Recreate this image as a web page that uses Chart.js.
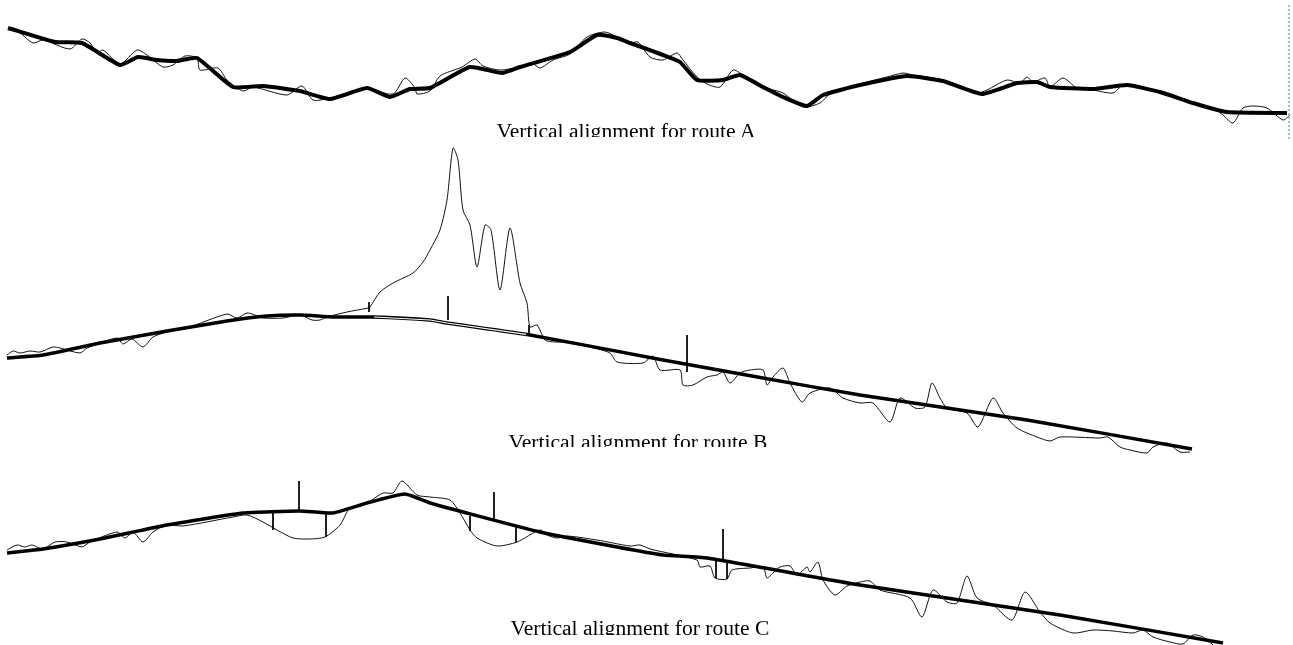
<!DOCTYPE html>
<html>
<head>
<meta charset="utf-8">
<title>Vertical alignment for routes A, B and C</title>
<script src="https://cdn.jsdelivr.net/npm/chart.js@4.4.1/dist/chart.umd.min.js"></script>
<style>
  html, body { margin: 0; padding: 0; background: #fff; }
  #page { position: relative; width: 1293px; height: 645px; overflow: hidden; }
  canvas { position: absolute; left: 0; }
  .caption {
    position: absolute;
    width: 320px;
    text-align: center;
    white-space: nowrap;
    overflow: hidden;
    font-family: "Liberation Serif", "Times New Roman", serif;
    font-size: 21.6px;
    line-height: 24px;
    color: #000;
  }
</style>
</head>
<body>
<div id="page">
  <canvas id="chartA" width="1293" height="150" style="top:0px"></canvas>
  <canvas id="chartB" width="1293" height="330" style="top:140px"></canvas>
  <canvas id="chartC" width="1293" height="175" style="top:470px"></canvas>
  <div class="caption" style="left:466px; top:119px; height:18px;">Vertical alignment for route A</div>
  <div class="caption" style="left:478px; top:430px; height:17px;">Vertical alignment for route B</div>
  <div class="caption" style="left:480px; top:616px; height:19px;">Vertical alignment for route C</div>
</div>
<script>
// Route A - design grade line and ground profile (station, elevation)
const aAlignStation = [8, 55, 82, 120, 138, 157, 177, 197, 233, 263, 300, 330, 367, 390, 410, 430, 470, 502, 520, 570, 597, 617, 630, 663, 680, 697, 723, 740, 763, 783, 807, 823, 860, 907, 943, 982, 1017, 1037, 1050, 1093, 1127, 1160, 1193, 1227, 1287];
const aAlignElev = [122, 108, 107, 85, 93, 90, 89, 92, 63, 64, 59, 51, 62, 53, 61, 62, 83, 77, 83, 98, 115, 112, 107, 95, 88, 70, 70, 75, 63, 53, 44, 55, 65, 74, 69, 56, 67, 68, 63, 61, 65, 58, 47, 38, 37];
const aGroundStation = [8, 20, 33, 43, 70, 82, 90, 97, 103, 120, 137, 147, 163, 173, 185, 197, 200, 218, 227, 243, 253, 287, 302, 313, 330, 343, 367, 393, 405, 415, 417, 430, 440, 462, 475, 483, 500, 520, 532, 540, 553, 570, 587, 605, 617, 630, 638, 650, 663, 677, 683, 697, 707, 720, 733, 743, 757, 770, 783, 803, 820, 830, 860, 887, 903, 913, 943, 977, 987, 1007, 1020, 1027, 1033, 1045, 1050, 1063, 1077, 1093, 1113, 1123, 1137, 1160, 1193, 1213, 1223, 1233, 1243, 1253, 1267, 1283, 1290];
const aGroundElev = [122, 117, 107, 110, 101, 111, 107, 97, 100, 86, 100, 95, 83, 85, 94, 92, 80, 82, 70, 59, 63, 55, 64, 50, 52, 56, 61, 56, 72, 62, 56, 59, 74, 83, 91, 84, 80, 83, 87, 82, 90, 96, 113, 118, 113, 107, 108, 93, 90, 97, 90, 73, 66, 63, 80, 75, 67, 61, 57, 43, 47, 56, 66, 73, 77, 75, 70, 57, 60, 70, 67, 73, 68, 72, 63, 72, 62, 60, 57, 65, 64, 58, 47, 42, 35, 27, 42, 44, 42, 30, 35];
const aMarkerStation = [1289, 1289];
const aMarkerElev = [145, 10];

// Route B
const bAlignStation = [7, 43, 100, 167, 227, 267, 300, 333, 373, 430, 447, 530, 663, 763, 860, 1027, 1192];
const bAlignElev = [112, 115, 127, 139, 149, 154, 155, 153, 153, 150, 147, 135, 110, 92, 75, 50, 21];
const bBridgeStation = [374, 430, 447, 526];
const bBridgeElev = [153, 150, 147, 135.6];
const bGroundStation = [7, 13, 20, 30, 40, 53, 60, 80, 87, 117, 123, 132, 143, 153, 167, 187, 227, 237, 247, 255, 263, 283, 300, 312, 320, 327, 347, 368, 370, 380, 393, 413, 423, 430, 440, 447, 453, 458, 463, 470, 477, 485, 491, 500, 510, 520, 527, 530, 537, 545, 555, 573, 590, 610, 617, 643, 653, 660, 680, 683, 693, 707, 717, 723, 730, 740, 750, 763, 767, 773, 783, 790, 802, 810, 830, 843, 860, 873, 890, 900, 915, 925, 932, 940, 947, 967, 978, 993, 1003, 1017, 1037, 1050, 1060, 1100, 1108, 1120, 1130, 1147, 1153, 1167, 1180, 1190];
const bGroundElev = [115, 119, 117, 119, 118, 123, 122, 117, 122, 132, 126, 131, 123, 133, 138, 142, 156, 152, 157, 155, 152, 152, 155, 150, 150, 153, 158, 162, 163, 178, 187, 197, 208, 220, 240, 270, 322, 310, 260, 245, 203, 245, 240, 180, 242, 187, 167, 143, 145, 130, 128, 128, 123, 117, 108, 107, 114, 100, 100, 85, 85, 93, 95, 98, 87, 97, 100, 100, 85, 93, 102, 87, 68, 77, 82, 72, 67, 67, 48, 72, 62, 63, 87, 72, 62, 57, 43, 72, 57, 42, 33, 29, 33, 32, 33, 23, 20, 17, 23, 27, 18, 18];
const bTickStation = [369, 369, null, 448, 448, null, 529, 529, null, 687, 687];
const bTickElev = [168, 158, null, 174, 150, null, 145, 135, null, 135, 98];

// Route C
const cAlignStation = [7, 43, 100, 167, 243, 300, 333, 367, 405, 430, 463, 540, 617, 663, 707, 860, 1060, 1223];
const cAlignElev = [92, 96, 106, 120, 132, 134, 132, 142, 151, 142, 133, 113, 98, 90, 87, 60, 30, 2];
const cGroundStation = [7, 17, 25, 32, 43, 55, 67, 82, 90, 117, 125, 133, 143, 153, 167, 183, 233, 247, 263, 277, 293, 310, 325, 340, 350, 367, 383, 393, 402, 417, 430, 450, 460, 470, 477, 497, 517, 540, 547, 557, 567, 597, 630, 640, 650, 697, 700, 710, 715, 727, 732, 750, 763, 767, 773, 780, 790, 797, 807, 810, 818, 823, 835, 847, 860, 870, 880, 910, 922, 933, 947, 957, 967, 977, 993, 1012, 1025, 1040, 1050, 1073, 1093, 1113, 1133, 1143, 1153, 1170, 1183, 1193, 1203, 1213];
const cGroundElev = [95, 100, 98, 100, 96, 103, 103, 98, 103, 113, 107, 113, 103, 113, 120, 119, 128, 130, 123, 115, 107, 106, 108, 120, 137, 142, 152, 152, 164, 150, 148, 145, 132, 115, 107, 99, 103, 115, 110, 107, 109, 105, 99, 100, 96, 85, 78, 79, 67, 66, 75, 77, 78, 67, 72, 78, 79, 70, 78, 73, 83, 65, 50, 59, 63, 64, 55, 47, 28, 55, 43, 42, 69, 47, 40, 25, 53, 33, 22, 12, 15, 14, 12, 15, 8, 3, 1, 10, 8, 0];
const cTickStation = [273, 273, null, 326, 326, null, 299, 299, null, 470, 470, null, 516, 516, null, 494, 494, null, 716, 716, null, 727, 727, null, 723, 723];
const cTickElev = [132, 115, null, 132, 108, null, 164, 133, null, 129, 114, null, 118, 103, null, 153, 126, null, 85, 67, null, 83, 66, null, 116, 86];

function toPoints(xs, ys) {
  return xs.map((x, i) => ({ x: x === null ? NaN : x, y: ys[i] }));
}

function drawProfile(id, height, sets) {
  const ctx = document.getElementById(id).getContext('2d');
  return new Chart(ctx, {
    type: 'line',
    data: { datasets: sets },
    options: {
      responsive: false,
      animation: false,
      devicePixelRatio: 1,
      layout: { padding: 0 },
      elements: { point: { radius: 0, hoverRadius: 0 } },
      plugins: { legend: { display: false }, tooltip: { enabled: false } },
      events: [],
      scales: {
        x: { type: 'linear', display: false, min: 0, max: 1293 },
        y: { type: 'linear', display: false, min: 0, max: height }
      }
    }
  });
}

function ground(xs, ys) {
  return { data: toPoints(xs, ys), borderColor: '#111', borderWidth: 1, tension: 0.25, clip: false, order: 3 };
}
function grade(xs, ys, w) {
  return { data: toPoints(xs, ys), borderColor: '#000', borderWidth: w, tension: 0.15, clip: false, order: 2 };
}
function ticks(xs, ys) {
  return { data: toPoints(xs, ys), borderColor: '#000', borderWidth: 1, spanGaps: false, clip: false, order: 1 };
}

drawProfile('chartA', 150, [
  ground(aGroundStation, aGroundElev),
  grade(aAlignStation, aAlignElev, 4),
  { data: toPoints(aMarkerStation, aMarkerElev), borderColor: '#2f9e44', borderWidth: 1, borderDash: [2, 2], clip: false, order: 1 }
]);

drawProfile('chartB', 330, [
  ground(bGroundStation, bGroundElev),
  grade(bAlignStation, bAlignElev, 3.5),
  { data: toPoints(bBridgeStation, bBridgeElev), borderColor: '#fff', borderWidth: 1.2, clip: false, order: 1 },
  ticks(bTickStation, bTickElev)
]);

drawProfile('chartC', 175, [
  ground(cGroundStation, cGroundElev),
  grade(cAlignStation, cAlignElev, 3.5),
  ticks(cTickStation, cTickElev)
]);
</script>
</body>
</html>
